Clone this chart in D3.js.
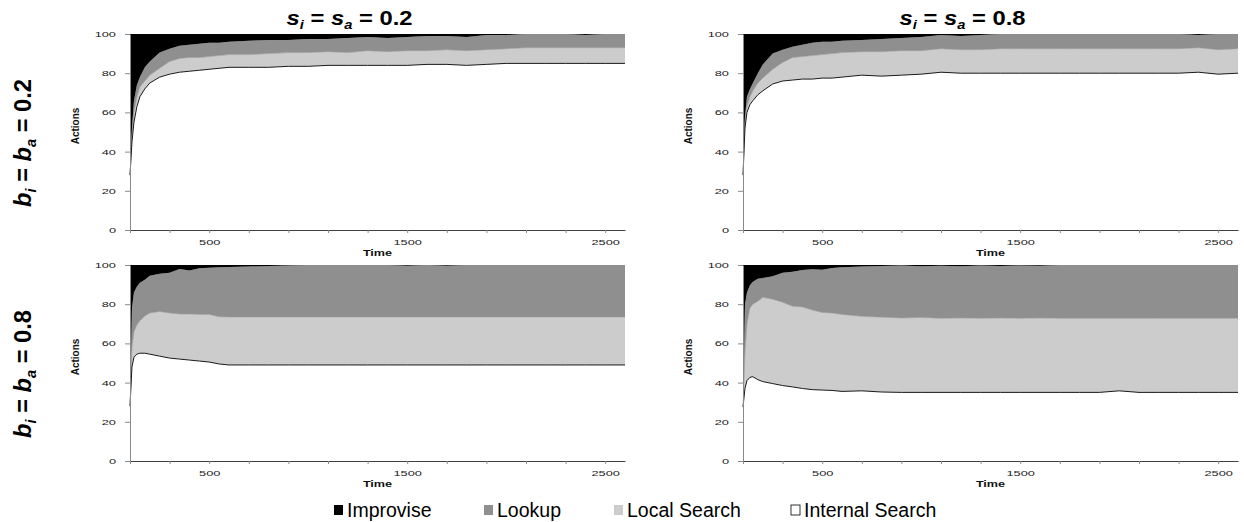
<!DOCTYPE html>
<html>
<head>
<meta charset="utf-8">
<script src="https://cdn.jsdelivr.net/npm/d3@7"></script>
<style>
  body { margin: 0; background: #fff; }
  svg { display: block; }
</style>
</head>
<body>
<div id="chart"></div>
<script>
// time steps shared by all four panels
const time = [100, 110, 120, 135, 150, 175, 200, 250, 300, 350, 400, 450, 500, 550, 600, 700, 800, 900, 1000,
  1100, 1200, 1300, 1400, 1500, 1600, 1700, 1800, 1900, 2000, 2100, 2200, 2300, 2400, 2500, 2600];

const seriesNames = ["Internal Search", "Local Search", "Lookup", "Improvise"];
const legendNames = ["Improvise", "Lookup", "Local Search", "Internal Search"];
const yTicks = [0, 20, 40, 60, 80, 100];
const xTicks = [100, 300, 500, 700, 900, 1100, 1300, 1500, 1700, 1900, 2100, 2300, 2500];
const xLabels = [500, 1500, 2500];
const colTitles = ["0.2", "0.8"];
const rowTitles = ["0.2", "0.8"];

// s = 0.2, b = 0.2
const tlInternal = [28, 45, 55, 63, 68, 72, 75, 78, 79.5, 80.5, 81, 81.5, 82, 82.5, 83, 83, 83, 83.5, 83.5, 84, 84, 84, 84, 84, 84.5, 84.5, 84, 84.5, 85, 85, 85, 85, 85, 85, 85];
const tlLocal = [0, 3, 5, 5, 5, 4, 4, 4.5, 6.5, 7, 7, 6.5, 6.5, 6.5, 6.5, 6.5, 7, 7, 7, 7, 6.5, 7.5, 7, 7.5, 7, 7.5, 7.5, 7.5, 7.5, 8, 8, 8, 8, 8, 8];
const tlLookup = [0, 4, 6, 6, 5, 7, 7, 8, 6.5, 6.5, 6.5, 7, 7, 6.5, 6.5, 7, 7, 6.5, 7, 6.5, 7.5, 7, 7, 7, 7.5, 7, 7, 7.5, 7, 7, 7, 7, 6.5, 7, 7];
const tlImprovise = [72, 48, 34, 26, 22, 17, 14, 9.5, 7.5, 6, 5.5, 5, 4.5, 4.5, 4, 3.5, 3, 3, 2.5, 2.5, 2, 1.5, 2, 1.5, 1, 1, 1.5, 0.5, 0.5, 0, 0, 0, 0.5, 0, 0];

// s = 0.8, b = 0.2
const trInternal = [28, 52, 60, 64, 66, 69, 71, 74.5, 76, 76.5, 77, 77, 77.5, 77.5, 78, 79, 78.5, 79, 79.5, 80.5, 80, 80, 80, 80, 80, 80, 80, 80, 80, 80, 80, 80, 80.5, 79.5, 80];
const trLocal = [0, 3, 3, 4, 5, 6, 6.5, 7.5, 9.5, 11.5, 11.5, 12, 12, 12.5, 12.5, 12, 12.5, 12.5, 12, 12, 12, 12, 12.5, 12.5, 12.5, 12.5, 12.5, 12.5, 12.5, 12.5, 12.5, 12.5, 12.5, 12.5, 12.5];
const trLookup = [0, 3, 5, 4, 4, 5, 7, 8, 6.5, 5.5, 6, 6.5, 6.5, 6, 6, 6, 6.5, 6.5, 7, 7, 7, 7.5, 7.5, 7.5, 7.5, 7.5, 7.5, 7.5, 7.5, 7.5, 7.5, 7.5, 6.5, 8, 7.5];
const trImprovise = [72, 42, 32, 28, 25, 20, 15.5, 10, 8, 6.5, 5.5, 4.5, 4, 4, 3.5, 3, 2.5, 2, 1.5, 0.5, 1, 0.5, 0, 0, 0, 0, 0, 0, 0, 0, 0, 0, 0.5, 0, 0];

// s = 0.2, b = 0.8
const blInternal = [28, 48, 53, 54.5, 55, 55, 54.5, 53.5, 52.5, 52, 51.5, 51, 50.5, 49.5, 49, 49, 49, 49, 49, 49, 49, 49, 49, 49, 49, 49, 49, 49, 49, 49, 49, 49, 49, 49, 49];
const blLocal = [0, 10, 13, 15, 16.5, 19, 21, 22.8, 23, 23, 23.5, 23.8, 24.3, 24.1, 24.5, 24.5, 24.5, 24.5, 24.5, 24.5, 24.5, 24.5, 24.5, 24.5, 24.5, 24.5, 24.5, 24.5, 24.5, 24.5, 24.5, 24.5, 24.5, 24.5, 24.5];
const blLookup = [0, 20, 20, 19.5, 19.5, 18.5, 19, 19.2, 20.5, 23, 22.2, 23.5, 23.8, 25.2, 25.5, 25.7, 26, 26.3, 26.5, 26.5, 26.5, 26.5, 26.5, 26.1, 26.5, 26.1, 26.5, 26.5, 26.5, 26.5, 26.5, 26.5, 26.5, 26.5, 26.5];
const blImprovise = [72, 22, 14, 11, 9, 7.5, 5.5, 4.5, 4, 2, 2.8, 1.7, 1.4, 1.2, 1, 0.8, 0.5, 0.2, 0, 0, 0, 0, 0, 0.4, 0, 0.4, 0, 0, 0, 0, 0, 0, 0, 0, 0];

// s = 0.8, b = 0.8
const brInternal = [27.5, 37, 41, 42.7, 43, 41.5, 40.5, 39.5, 38.5, 37.8, 37, 36.4, 36.2, 36, 35.5, 35.8, 35.2, 35, 35, 35, 35, 35, 35, 35, 35, 35, 35, 35, 35.8, 35, 35, 35, 35, 35, 35];
const brLocal = [0, 18, 29, 35.3, 37, 40, 43, 43, 42.5, 41.2, 41.6, 40.6, 39.6, 39.5, 39.3, 38, 38.2, 38, 38.2, 37.8, 38, 37.8, 38, 37.8, 38, 37.8, 37.8, 37.8, 37, 37.8, 37.8, 37.8, 37.8, 37.8, 37.8];
const brLookup = [0, 25, 16, 11.7, 11.5, 11.5, 9.9, 11.8, 15, 17.5, 18.9, 20.8, 21.8, 23, 24, 25.4, 26.1, 26.7, 26.1, 26.8, 26.4, 26.9, 26.5, 27, 26.6, 27.2, 27.2, 27.2, 27.2, 27.2, 27.2, 27.2, 27.2, 27.2, 27.2];
const brImprovise = [72.5, 20, 14, 10.3, 8.5, 7, 6.6, 5.7, 4, 3.5, 2.5, 2.2, 2.4, 1.5, 1.2, 0.8, 0.5, 0.3, 0.7, 0.4, 0.6, 0.3, 0.5, 0.2, 0.4, 0, 0, 0, 0, 0, 0, 0, 0, 0, 0];

const colors = {
  "Improvise": "#000000",
  "Lookup": "#8f8f8f",
  "Local Search": "#cccccc",
  "Internal Search": "#ffffff"
};

const width = 1244;
const height = 522;
const plotW = 495;
const plotH = 196;

const panels = [
  { left: 130, top: 34, values: [tlInternal, tlLocal, tlLookup, tlImprovise] },
  { left: 743, top: 34, values: [trInternal, trLocal, trLookup, trImprovise] },
  { left: 130, top: 265, values: [blInternal, blLocal, blLookup, blImprovise] },
  { left: 743, top: 265, values: [brInternal, brLocal, brLookup, brImprovise] }
];

const svg = d3
  .select("#chart")
  .append("svg")
  .attr("width", width)
  .attr("height", height)
  .style("font-family", "'Liberation Sans', Arial, sans-serif");

// stretch small text sideways, like the original picture
function stretch(sel, k) {
  sel.each(function () {
    const w = this.getComputedTextLength();
    if (w > 0) {
      d3.select(this).attr("textLength", w * k).attr("lengthAdjust", "spacingAndGlyphs");
    }
  });
}

const x = d3.scaleLinear().domain([100, 2600]).range([0, plotW]);
const y = d3.scaleLinear().domain([0, 100]).range([plotH, 0]);

const stack = d3.stack().keys(seriesNames);
const area = d3
  .area()
  .x((d) => x(d.data.time))
  .y0((d) => y(d[0]))
  .y1((d) => y(d[1]));
const edge = d3
  .line()
  .x((d) => x(d.data.time))
  .y((d) => y(d[1]));

panels.forEach(function (p) {
  const rows = time.map(function (t, i) {
    const row = { time: t };
    seriesNames.forEach((name, k) => (row[name] = p.values[k][i]));
    return row;
  });
  const layers = stack(rows);

  const g = svg.append("g").attr("transform", `translate(${p.left},${p.top})`);

  g.selectAll("path.layer")
    .data(layers)
    .enter()
    .append("path")
    .attr("class", "layer")
    .attr("d", area)
    .attr("fill", (d) => colors[d.key]);

  // series borders
  g.append("path")
    .datum(layers[1])
    .attr("d", edge)
    .attr("fill", "none")
    .attr("stroke", "#9a9a9a")
    .attr("stroke-width", 0.6);
  g.append("path")
    .datum(layers[0])
    .attr("d", edge)
    .attr("fill", "none")
    .attr("stroke", "#1a1a1a")
    .attr("stroke-width", 1);

  // y axis
  const yAxis = g
    .append("g")
    .call(d3.axisLeft(y).tickValues(yTicks).tickSize(5).tickSizeOuter(0).tickPadding(9));
  yAxis.select(".domain").attr("stroke", "#8a8a8a");
  yAxis.selectAll(".tick line").attr("stroke", "#8a8a8a");
  yAxis
    .selectAll(".tick text")
    .attr("font-size", 8)
    .attr("font-family", "'Liberation Sans', Arial, sans-serif")
    .attr("fill", "#222")
    .call(stretch, 1.6);

  // x axis
  const xAxis = g
    .append("g")
    .attr("transform", `translate(0,${plotH})`)
    .call(
      d3
        .axisBottom(x)
        .tickValues(xTicks)
        .tickSize(3)
        .tickSizeOuter(0)
        .tickPadding(6)
        .tickFormat((d) => (xLabels.includes(d) ? d : ""))
    );
  xAxis.select(".domain").attr("stroke", "#404040");
  xAxis.selectAll(".tick line").attr("stroke", "#8a8a8a");
  xAxis
    .selectAll(".tick text")
    .attr("font-size", 8)
    .attr("font-family", "'Liberation Sans', Arial, sans-serif")
    .attr("fill", "#222")
    .call(stretch, 1.6);

  g.append("text")
    .attr("x", plotW / 2)
    .attr("y", plotH + 26)
    .attr("text-anchor", "middle")
    .attr("font-size", 9)
    .attr("font-weight", "bold")
    .attr("fill", "#111")
    .text("Time")
    .call(stretch, 1.4);

  g.append("text")
    .attr("transform", `translate(-51,${plotH / 2 - 6}) rotate(-90)`)
    .attr("text-anchor", "middle")
    .attr("font-size", 10)
    .attr("font-weight", "bold")
    .attr("fill", "#111")
    .text("Actions");
});

// s_i = s_a = v  /  b_i = b_a = v
function mathLabel(g, sym, val, size) {
  const t = g
    .append("text")
    .attr("font-weight", "bold")
    .attr("font-size", size)
    .attr("fill", "#000")
    .attr("text-anchor", "middle");
  t.append("tspan").attr("font-style", "italic").text(sym);
  t.append("tspan").attr("font-style", "italic").attr("font-size", size * 0.62).attr("dy", size * 0.2).text("i");
  t.append("tspan").attr("dy", -size * 0.2).text(" = ");
  t.append("tspan").attr("font-style", "italic").text(sym);
  t.append("tspan").attr("font-style", "italic").attr("font-size", size * 0.62).attr("dy", size * 0.2).text("a");
  t.append("tspan").attr("dy", -size * 0.2).text(" = " + val);
  return t;
}

// column titles
colTitles.forEach(function (v, i) {
  const cx = panels[i].left + plotW / 2 - 28;
  const g = svg.append("g");
  const t = mathLabel(g, "s", v, 20);
  const w = t.node().getBBox().width;
  g.attr("transform", `translate(${cx},25) scale(${126 / w},1)`);
});

// row titles
rowTitles.forEach(function (v, i) {
  const cy = panels[i * 2].top + plotH / 2 + 11;
  const g = svg.append("g");
  const t = mathLabel(g, "b", v, 19);
  const w = t.node().getBBox().width;
  g.attr("transform", `translate(31,${cy}) rotate(-90) scale(${128 / w},1.25)`);
});

// legend
const legendX = [334, 484, 614, 791];
const legend = svg.append("g").attr("transform", "translate(0,517)");
legendNames.forEach(function (name, i) {
  legend
    .append("rect")
    .attr("x", legendX[i])
    .attr("y", -12)
    .attr("width", 9)
    .attr("height", 10)
    .attr("fill", colors[name])
    .attr("stroke", name === "Internal Search" ? "#000" : "none")
    .attr("stroke-width", 0.8);
  legend
    .append("text")
    .attr("x", legendX[i] + 13)
    .attr("y", 0)
    .attr("font-size", 19.5)
    .attr("fill", "#000")
    .text(name);
});
</script>
</body>
</html>
